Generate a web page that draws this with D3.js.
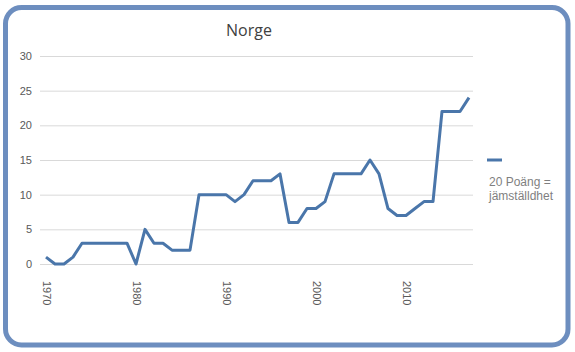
<!DOCTYPE html>
<html>
<head>
<meta charset="utf-8">
<script src="https://cdn.jsdelivr.net/npm/d3@7"></script>
<style>
  body { margin: 0; background: #fff; }
  svg { display: block; font-family: "Open Sans", "DejaVu Sans", sans-serif; }
</style>
</head>
<body>
<div id="chart"></div>
<script>
const years = d3.range(1970, 2018);
const points = [
    1, 0, 0, 1, 3, 3, 3, 3, 3, 3,
    0, 5, 3, 3, 2, 2, 2, 10, 10, 10,
    10, 9, 10, 12, 12, 12, 13, 6, 6, 8,
    8, 9, 13, 13, 13, 13, 15, 13, 8, 7,
    7, 8, 9, 9, 22, 22, 22, 24
];
const yTicks = [0, 5, 10, 15, 20, 25, 30];
const xTicks = [1970, 1980, 1990, 2000, 2010];
const title = 'Norge';
const legendLines = ['20 Poäng =', 'jämställdhet'];

const width = 575;
const height = 352;
const marginLeft = 46;
const marginTop = 56;
const marginBottom = 88;

const svg = d3.select('#chart')
    .append('svg')
    .attr('width', width)
    .attr('height', height);

// frame
svg.append('rect')
    .attr('x', 5.5)
    .attr('y', 7.5)
    .attr('width', 562.5)
    .attr('height', 337.5)
    .attr('rx', 16)
    .attr('fill', '#fff')
    .attr('stroke', '#6d8ebf')
    .attr('stroke-width', 5);

const x = d3.scaleLinear()
    .domain([1970, 2017])
    .range([marginLeft, marginLeft + 9 * 47]);

const y = d3.scaleLinear()
    .domain([0, 30])
    .range([height - marginBottom, marginTop]);

// grid lines
svg.append('g')
    .attr('transform', `translate(40, 0)`)
    .call(d3.axisLeft(y).tickValues(yTicks).tickSize(-433).tickFormat(''))
    .call(g => g.select('.domain').remove())
    .selectAll('line')
    .attr('stroke', '#d9d9d9')
    .attr('stroke-width', 1);

// y axis labels
svg.append('g')
    .attr('transform', `translate(36, 0)`)
    .call(d3.axisLeft(y).tickValues(yTicks).tickSize(0).tickPadding(4))
    .call(g => g.select('.domain').remove())
    .selectAll('text')
    .attr('fill', '#595959')
    .style('font-size', '11px');

// x axis labels
svg.append('g')
    .attr('transform', `translate(0, ${height - marginBottom + 17})`)
    .call(d3.axisBottom(x).tickValues(xTicks).tickSize(0).tickFormat(d3.format('d')))
    .call(g => g.select('.domain').remove())
    .selectAll('text')
    .attr('fill', '#595959')
    .style('font-size', '11px')
    .attr('text-anchor', 'start')
    .attr('y', 0)
    .attr('dy', '0.35em')
    .attr('transform', 'rotate(90)');

// line
const line = d3.line()
    .x((d, i) => x(years[i]))
    .y(d => y(d));

svg.append('path')
    .datum(points)
    .attr('fill', 'none')
    .attr('stroke', '#4a76aa')
    .attr('stroke-width', 3)
    .attr('stroke-linejoin', 'round')
    .attr('d', line);

// title
svg.append('text')
    .attr('x', 249)
    .attr('y', 36)
    .attr('text-anchor', 'middle')
    .attr('fill', '#404040')
    .style('font-size', '16px')
    .text(title);

// legend
svg.append('line')
    .attr('x1', 487)
    .attr('x2', 502)
    .attr('y1', 160)
    .attr('y2', 160)
    .attr('stroke', '#4a76aa')
    .attr('stroke-width', 3);

svg.append('g')
    .selectAll('text')
    .data(legendLines)
    .join('text')
        .attr('x', 489)
        .attr('y', (d, i) => 186 + i * 14)
        .attr('fill', '#7f7f7f')
        .style('font-family', '"Liberation Sans", Arial, sans-serif')
        .style('font-size', '12px')
        .text(d => d);
</script>
</body>
</html>
